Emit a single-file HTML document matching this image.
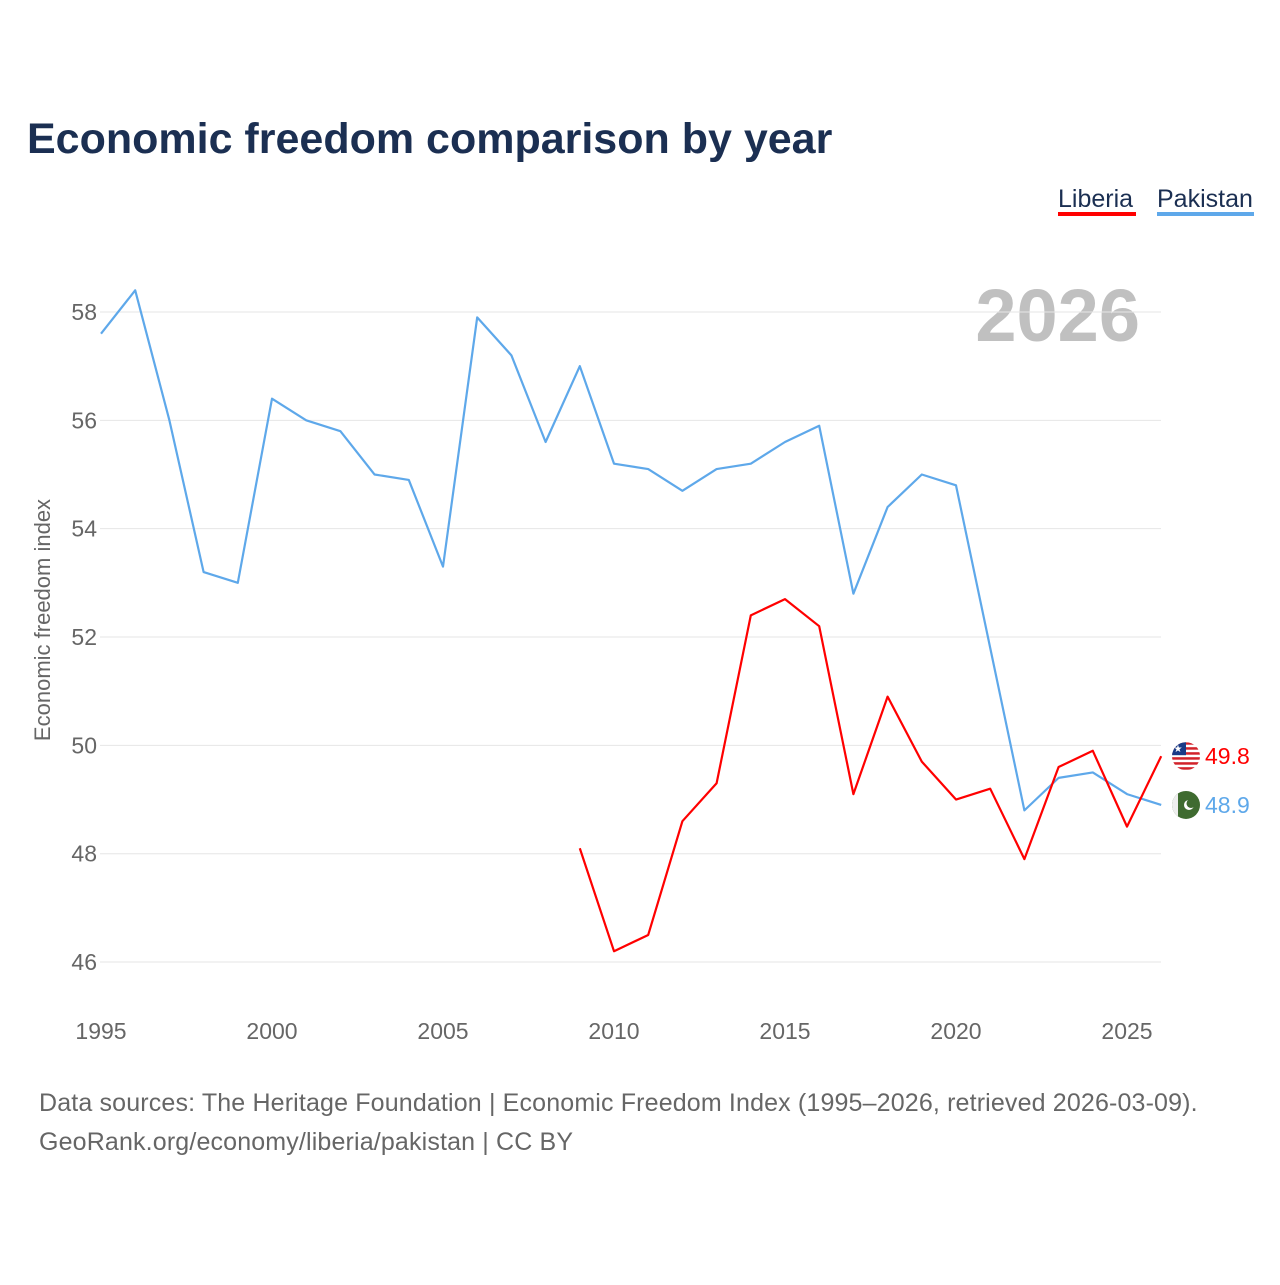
<!DOCTYPE html>
<html><head><meta charset="utf-8"><style>
body{margin:0;background:#fff;width:1280px;height:1280px;overflow:hidden;font-family:"Liberation Sans",sans-serif}
</style></head><body>
<svg width="1280" height="1280" xmlns="http://www.w3.org/2000/svg" font-family="Liberation Sans, sans-serif">
<defs>
<clipPath id="c1"><circle cx="1186" cy="755.5" r="14"/></clipPath>
<clipPath id="c2"><circle cx="1186" cy="804.2" r="14"/></clipPath>
</defs>
<text x="27" y="153" font-size="43" font-weight="bold" fill="#1b2f52">Economic freedom comparison by year</text>
<g>
<text x="1058" y="207" font-size="25" fill="#1b2f52">Liberia</text>
<rect x="1058" y="212" width="78" height="4" fill="#ff0000"/>
<text x="1157" y="207" font-size="25" fill="#1b2f52">Pakistan</text>
<rect x="1157" y="212" width="97" height="4" fill="#5ea8ea"/>
</g>
<text x="1140" y="341" font-size="74" font-weight="bold" fill="#c0c0c0" text-anchor="end">2026</text>
<g id="grid"></g><g id="axes"></g><g id="lines"></g>
<text transform="translate(50,620) rotate(-90)" font-size="22" fill="#666" text-anchor="middle">Economic freedom index</text>
<text x="39" y="1111" font-size="25" letter-spacing="0.15" fill="#666">Data sources: The Heritage Foundation | Economic Freedom Index (1995–2026, retrieved 2026-03-09).</text>
<text x="39" y="1150" font-size="25" letter-spacing="0.15" fill="#666">GeoRank.org/economy/liberia/pakistan | CC BY</text>
</svg>
<script>
const years=[1995,1996,1997,1998,1999,2000,2001,2002,2003,2004,2005,2006,2007,2008,2009,2010,2011,2012,2013,2014,2015,2016,2017,2018,2019,2020,2021,2022,2023,2024,2025,2026];
const pakistan=[57.6,58.4,56.0,53.2,53.0,56.4,56.0,55.8,55.0,54.9,53.3,57.9,57.2,55.6,57.0,55.2,55.1,54.7,55.1,55.2,55.6,55.9,52.8,54.4,55.0,54.8,51.8,48.8,49.4,49.5,49.1,48.9];
const liberiaYears=[2009,2010,2011,2012,2013,2014,2015,2016,2017,2018,2019,2020,2021,2022,2023,2024,2025,2026];
const liberia=[48.1,46.2,46.5,48.6,49.3,52.4,52.7,52.2,49.1,50.9,49.7,49.0,49.2,47.9,49.6,49.9,48.5,49.8];
const yTicks=[46,48,50,52,54,56,58];
const xTicks=[1995,2000,2005,2010,2015,2020,2025];
const X=y=>101+(y-1995)*34.2;
const Y=v=>312+(58-v)*54.17;
const NS="http://www.w3.org/2000/svg";
function mk(p,t,a){const e=document.createElementNS(NS,t);for(const k in a)e.setAttribute(k,a[k]);(typeof p==='string'?document.getElementById(p):p).appendChild(e);return e;}
yTicks.forEach(v=>{
 const l=mk('grid','line',{x1:100,x2:1161,y1:Y(v),y2:Y(v),stroke:'#e6e6e6','stroke-width':1});
 
 
 const t=mk('axes','text',{x:97,y:Y(v)+8,'font-size':23,fill:'#666','text-anchor':'end'});t.textContent=v;
 
 
});
xTicks.forEach(y=>{
 const t=mk('axes','text',{x:X(y),y:1039,'font-size':23,fill:'#666','text-anchor':'middle'});t.textContent=y;
 
 
});
function line(xs,vs,c,name){
 const p=mk('lines','polyline',{points:xs.map((y,i)=>X(y)+','+Y(vs[i])).join(' '),fill:'none',stroke:c,'stroke-width':2.2,'stroke-linejoin':'round'});
 
 
}
line(years,pakistan,'#5ea8ea','pakistan-line');
line(liberiaYears,liberia,'#ff0000','liberia-line');
const lv=liberia[liberia.length-1],pv=pakistan[pakistan.length-1];
document.querySelector('#c1 circle').setAttribute('cy',Y(lv));
document.querySelector('#c2 circle').setAttribute('cy',Y(pv));
const g1=mk('lines','g',{'clip-path':'url(#c1)'});


mk(g1,'rect',{x:1170,y:Y(lv)-16,width:32,height:32,fill:'#fff'});
for(let i=0;i<6;i++){mk(g1,'rect',{x:1170,y:Y(lv)-14+i*5,width:32,height:2.5,fill:'#d2222a'});}
mk(g1,'rect',{x:1170,y:Y(lv)-16,width:16,height:15,fill:'#1a3b87'});
mk(g1,'text',{x:1178,y:Y(lv)-4,'font-size':10,fill:'#fff','text-anchor':'middle'}).textContent='★';
const g2=mk('lines','g',{'clip-path':'url(#c2)'});


mk(g2,'rect',{x:1170,y:Y(pv)-16,width:32,height:32,fill:'#3f6b30'});
mk(g2,'rect',{x:1170,y:Y(pv)-16,width:8,height:32,fill:'#eee'});
mk(g2,'circle',{cx:1189,cy:Y(pv),r:5,fill:'#fff'});
mk(g2,'circle',{cx:1191,cy:Y(pv)-1.5,r:4.5,fill:'#3f6b30'});
const t1=mk('lines','text',{x:1205,y:Y(lv)+8,'font-size':23,fill:'#ff0000'});t1.textContent=lv.toFixed(1);


const t2=mk('lines','text',{x:1205,y:Y(pv)+8,'font-size':23,fill:'#5ea8ea'});t2.textContent=pv.toFixed(1);


</script>
</body></html>
